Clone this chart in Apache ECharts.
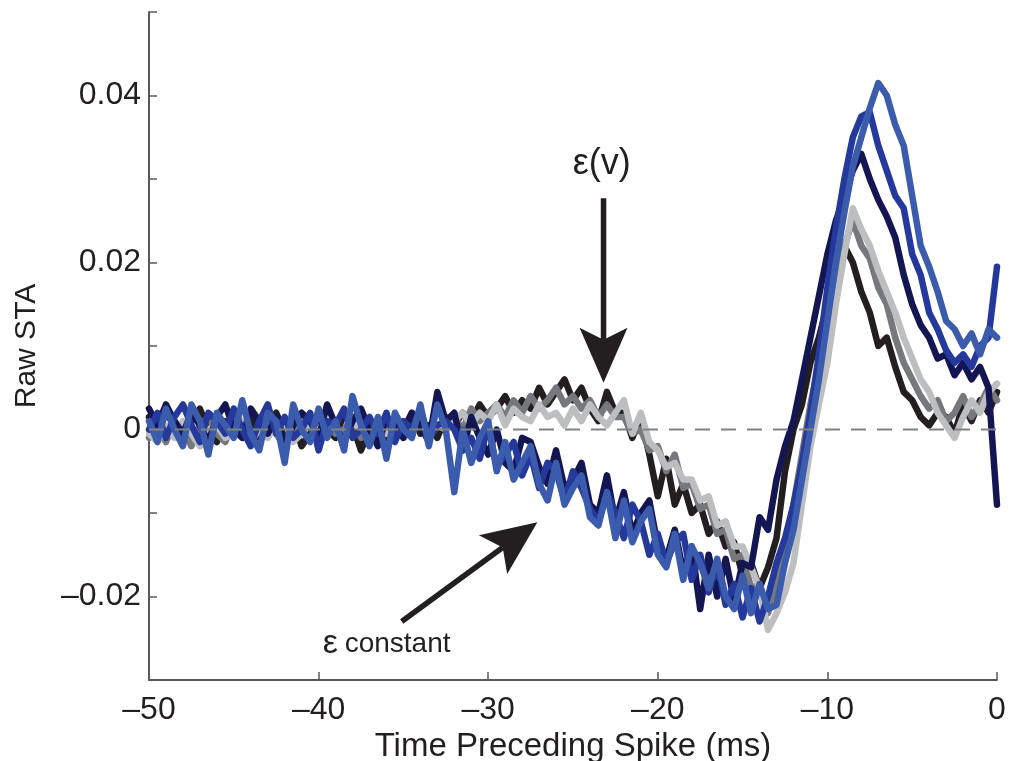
<!DOCTYPE html>
<html><head><meta charset="utf-8">
<script src="https://cdn.jsdelivr.net/npm/echarts@6/dist/echarts.min.js"></script>
<style>html,body{margin:0;padding:0;background:#fff}#c{width:1011px;height:761px}</style>
</head><body><div id="c"></div>
<script>
// Sampling grid (ms before spike)
const T_START = -50, T_STEP = 0.5;
// Values in units of 1e-3 (Raw STA)
const UNIT = 0.001;
const blackSTA = [1.5,-0.5,2,0.5,-1,1,2.5,0,-1.5,1, 0.5,-0.5,1.5,-1,0.5,2,-0.5,1,-2,-0.5, 1.5,0,-1,2,0.5,-2.5,0,1,-1,1.5, 0,2,-0.5,0.5,-1,1.5,
  0.5,2,1,3,1.5,2.5,4,2,3.5,2.5, 5,3,4.5,6,3.5,5,2.5,1,4.5,2,
  2,-1,1.5,-3,-8,-3.5,-9,-6.5,-10,-9, -12.5,-11,-14,-13.5,-17.5,-16,-19,-16.5,-13,-5,
  0,3,8,11,15,19,22,20,16.5,14, 10,11,7.5,4.5,3.5,1.5,0.5,2,1.5,-0.5, 3,1,3.5,2,4.5];
const darkGraySTA = [-1,0.5,-1.5,1,0,-2,0.5,1.5,-0.5,-1.5, 1,0,-1,0.5,1.5,-0.5,-2,0,1,0.5, -1.5,1,-0.5,0,1.5,-1,0.5,-1.5,0,1, -0.5,0.5,1.5,-1,0.5,1,
  1.5,0,2.5,1,2,3,1.5,3.5,2,4, 2.5,3.5,5,3,4,2.5,3.5,1.5,3,1.5,
  1.5,-0.5,0,-2.5,-2,-5,-3,-7,-6.5,-9.5, -9,-12.5,-12,-15.5,-15,-19,-18.5,-22,-18,-14,
  -9,-3,3,8,13,18,22,25,22,20.5, 17,15,11,8,6,4,2.5,3.5,1,2, 4,1.5,3,5,3.5];
const lightGraySTA = [-0.5,-1.5,0.5,-1,1,-0.5,-2,0,0.5,-1, -0.5,1,-1.5,0,-1,0.5,1,-1.5,-0.5,1, -1,0,0.5,-1.5,1,0,-1,0.5,-0.5,1.5, -1,0,1,-0.5,0.5,0,
  1,2,0.5,2,1,3,0.5,2.5,1.5,1, 3,1.5,2,0.5,2.5,1,3,1.5,0.5,2,
  3.5,-0.5,2,-1.5,-2.5,-4.5,-4,-6,-6,-8.5, -8,-11.5,-11,-14,-14,-16.5,-19,-24,-22,-19.5,
  -16,-9,-2,3,8,15,21,26.5,24,22, 19,16.5,14,11,8.5,6,4.5,2,0.5,-1, 1.5,3.5,2,4.5,5.5];
const navySTA = [2.5,0.5,3,1,-0.5,2,0.5,-1.5,1.5,3, 0,-1,2.5,1,-0.5,1.5,-2,0.5,2,1, -1,3,0.5,-1.5,1,2.5,0,-2,1.5,0.5, -1,2,0.5,-1.5,4.5,1,
  2,-2.5,1.5,-1,-3,0,-4,-5,-1,-1.5, -4.5,-6.5,-2.5,-7,-6,-4,-9,-10,-5.5,-11,
  -7.5,-12.5,-10,-8.5,-14,-15.5,-12,-17,-14,-21.5, -15,-20,-15.5,-20.5,-16,-16.5,-10.5,-12,-6,-2,
  1,6,11,16,21,25,28,31,33,30, 27.5,25.5,23,18.5,15,12.5,11,8.5,9,6.5, 8,6,7.5,5,-9];
const mediumBlueSTA = [0,2,-1,1.5,3,0.5,-1.5,2,1,-0.5, 2.5,0,-2,1,3,-0.5,1.5,-1,0,2, -2.5,1,0.5,2.5,-1,0,1.5,-0.5,2,-1.5, 1,0,2.5,-1,0.5,1,
  0,-2.5,-1,-3.5,0.5,-4.5,-3,-1.5,-5.5,-3, -7,-4,-5,-8.5,-5,-7,-9.5,-11,-7.5,-10,
  -13,-9,-11,-15,-12.5,-16,-13.5,-12.5,-18,-15, -19.5,-16,-21,-18.5,-22.5,-19,-23,-20,-16,-13,
  -9,-4,2,9,17,24,30,35,37.5,38, 34,31,28,26.5,21,18.5,14,12,9.5,8, 9,7.5,10,11,19.5];
const steelBlueSTA = [1,-1.5,2.5,0,-2,3,1,-3,2,0.5, -1,3.5,-0.5,-2.5,2,1,-4,3,0,-1.5, 2.5,-1,1,-2.5,4,0.5,-2,1.5,-3.5,2, 0,-1,3,-2,3,0,
  -7.5,0,-4,-1,1,-5,-1.5,-6,-4,-2, -6.5,-8.5,-4,-9,-7,-5.5,-10.5,-11.5,-7.5,-13,
  -8.5,-13.5,-11,-9.5,-15,-16.5,-12.5,-18,-14,-16, -19,-15.5,-20,-21.5,-17.5,-22,-18.5,-21.5,-21,-16,
  -12,-6,0,6,13,20,26,31.5,35,38.5, 41.5,40,36.5,34,28,22,19.5,16.5,13,12, 10,11.5,9,12,11];

const seriesList = [
  {name:'black', data: blackSTA, color:'#231f20'},
  {name:'dark gray', data: darkGraySTA, color:'#77787b'},
  {name:'light gray', data: lightGraySTA, color:'#bcbec0'},
  {name:'navy', data: navySTA, color:'#141653'},
  {name:'medium blue', data: mediumBlueSTA, color:'#25389c'},
  {name:'steel blue', data: steelBlueSTA, color:'#3b5cad'}
];
const xTicks = [-50,-40,-30,-20,-10,0];
const yLabeled = [-0.02,0,0.02,0.04];

// Annotations (data coordinates)
const annoEpsV = {text:'ε(v)', at:[-23.3,0.0318], tail:[-23.2,0.0277], tip:[-23.2,0.0056]};
const annoEpsC = {at:[-39.75,-0.0257], tail:[-35.1,-0.0230], tip:[-27.1,-0.0111]};

const FONT = 'Liberation Sans, Arial, Helvetica, sans-serif';
const TXT = '#231f20';
const chart = echarts.init(document.getElementById('c'), null, {renderer:'canvas'});

const series = seriesList.map(s => ({
  name: s.name, type:'line', showSymbol:false, symbol:'none', animation:false,
  data: s.data.map((v,i)=>[T_START + i*T_STEP, v*UNIT]),
  lineStyle:{color:s.color, width:6.5, join:'round', cap:'round'},
  itemStyle:{color:s.color}
}));
series.push({
  name:'zero', type:'line', symbol:'none', animation:false, z:5,
  data:[[-50,0],[0,0]],
  lineStyle:{color:'#808184', width:2.2, type:[15,11]}
});

const dash = '\u2013';
const option = {
  animation:false,
  backgroundColor:'#ffffff',
  grid:{left:149, right:14, top:12, bottom:81, containLabel:false, outerBoundsMode:'none'},
  xAxis:{
    type:'value', min:-50, max:0, interval:10,
    name:'Time Preceding Spike (ms)', nameLocation:'middle', nameGap:50,
    nameTextStyle:{fontFamily:FONT, fontSize:33, color:TXT},
    axisLine:{onZero:false, lineStyle:{color:TXT, width:1.5}},
    axisTick:{inside:true, length:8, lineStyle:{color:'#58595b', width:1.5}},
    axisLabel:{fontFamily:FONT, fontSize:32, color:TXT, margin:14,
      formatter: v => xTicks.includes(Math.round(v)) ? (v<0 ? dash+Math.abs(Math.round(v)) : String(Math.round(v))) : ''},
    splitLine:{show:false}
  },
  yAxis:{
    type:'value', min:-0.03, max:0.05, interval:0.01,
    name:'Raw STA', nameLocation:'middle', nameGap:107,
    nameTextStyle:{fontFamily:FONT, fontSize:30, color:TXT},
    axisLine:{onZero:false, lineStyle:{color:TXT, width:1.5}},
    axisTick:{inside:true, length:8, lineStyle:{color:'#58595b', width:1.5}},
    axisLabel:{fontFamily:FONT, fontSize:32, color:TXT, margin:8,
      formatter: v => {
        const r = Math.round(v*100)/100;
        if (!yLabeled.some(t=>Math.abs(t-v)<1e-6)) return '';
        if (Math.abs(r)<1e-9) return '0';
        return r<0 ? dash+Math.abs(r).toFixed(2) : r.toFixed(2);
      }},
    splitLine:{show:false}
  },
  series
};
chart.setOption(option);

// Check data lengths
const bad = seriesList.filter(s=>s.data.length!==101).map(s=>s.name+':'+s.data.length);

function px(p){ return chart.convertToPixel({gridIndex:0}, p); }
function arrow(tail, tip){
  const a = px(tail), b = px(tip);
  const dx=b[0]-a[0], dy=b[1]-a[1], L=Math.hypot(dx,dy);
  const ux=dx/L, uy=dy/L, nx=-uy, ny=ux;
  const headLen=55, halfW=24, notch=12;
  const bx=b[0]-ux*headLen, by=b[1]-uy*headLen;
  const c1=[bx+nx*halfW, by+ny*halfW], c2=[bx-nx*halfW, by-ny*halfW];
  const np=[b[0]-ux*(headLen-notch), b[1]-uy*(headLen-notch)];
  return [
    {type:'line', shape:{x1:a[0],y1:a[1],x2:np[0],y2:np[1]}, style:{stroke:'#231f20', lineWidth:5.5}, z:100},
    {type:'polygon', shape:{points:[b,c1,np,c2]}, style:{fill:'#231f20'}, z:100}
  ];
}
const pV = px(annoEpsV.at), pC = px(annoEpsC.at);
const graphic = [
  ...arrow(annoEpsV.tail, annoEpsV.tip),
  ...arrow(annoEpsC.tail, annoEpsC.tip),
  {type:'text', x:pV[0], y:pV[1], z:100, style:{text:annoEpsV.text, font:'36px '+FONT, fill:TXT, textAlign:'center', textVerticalAlign:'middle'}},
  {type:'text', x:pC[0], y:pC[1], z:100, style:{
    text:'{e|ε}  {c|constant}', textAlign:'left', textVerticalAlign:'middle',
    rich:{e:{fontSize:34, fontFamily:FONT, fill:TXT, color:TXT}, c:{fontSize:28, fontFamily:FONT, fill:TXT, color:TXT}}
  }}
];
if (bad.length) graphic.push({type:'text', x:300, y:50, style:{text:'LEN '+bad.join(' '), font:'20px sans-serif', fill:'red'}});
chart.setOption({graphic});
</script></body></html>
